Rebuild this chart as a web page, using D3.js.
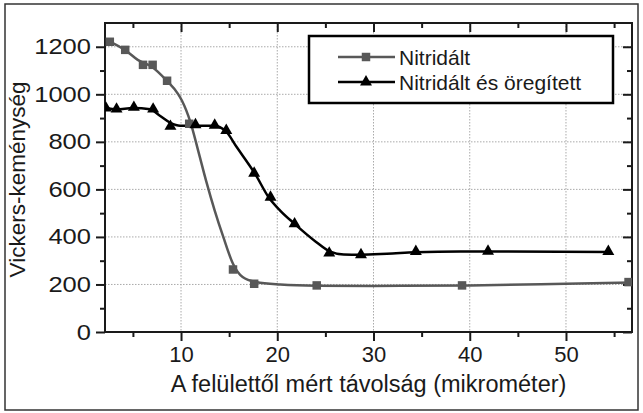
<!DOCTYPE html>
<html>
<head>
<meta charset="utf-8">
<script src="https://cdn.jsdelivr.net/npm/d3@7"></script>
<style>
    html, body { margin: 0; padding: 0; background: #fff; }
    svg { display: block; font-family: 'Liberation Sans', Arial, sans-serif; }
</style>
</head>
<body>
<div id="chart"></div>
<script>
'use strict';

// measured points
const nitridX = [2.6, 4.2, 6.05, 7.05, 8.55, 10.85, 15.4, 17.6, 24.1, 39.2, 56.5];
const nitridY = [1221, 1187, 1124, 1124, 1057, 876, 263, 203, 196, 196, 210];
const agedX = [2.2, 3.3, 5.1, 7.1, 8.9, 11.5, 13.5, 14.7, 17.6, 19.3, 21.8, 25.4, 28.7, 34.4, 41.9, 54.4];
const agedY = [942, 938, 945, 938, 865, 872, 870, 848, 668, 567, 455, 332, 325, 339, 340, 339];

// fitted curves
const nitridCurveX = [2.6, 4.2, 5.5, 7.0, 8.5, 9.7, 10.1, 11.0, 11.8, 12.6, 13.5, 14.4, 15.4, 16.4, 17.8, 20.3, 24.1, 30, 40, 50, 56.9];
const nitridCurveY = [1222, 1186, 1145, 1115, 1058, 1001, 973, 880, 760, 637, 511, 399, 287, 231, 210, 200, 195, 194, 196, 203, 208];
const agedCurveX = [2.2, 3.3, 5.0, 6.8, 7.8, 8.9, 9.9, 11.6, 13.4, 14.6, 15.8, 17.7, 19.1, 20.3, 21.8, 24.0, 25.5, 26.9, 28.6, 31.4, 34.3, 39.0, 54.6];
const agedCurveY = [942, 937, 942, 937, 910, 880, 868, 868, 868, 847, 777, 665, 567, 511, 455, 380, 338, 326, 325, 329, 335, 339, 337];

const xTicks = [10, 20, 30, 40, 50];
const xMinor = [5, 15, 25, 35, 45, 55];
const yTicks = [0, 200, 400, 600, 800, 1000, 1200];
const yMinor = [100, 300, 500, 700, 900, 1100];

const seriesNames = ['Nitridált', 'Nitridált és öregített'];
const xTitle = 'A felülettől mért távolság (mikrométer)';
const yTitle = 'Vickers-keménység';

const W = 643, H = 413;
const margin = {top: 23, right: 11, bottom: 81, left: 105};
const width = W - margin.left - margin.right;
const height = H - margin.top - margin.bottom;
const grayCol = '#585858';
const inkCol = '#1a1a1a';

const svg = d3.select('#chart').append('svg')
    .attr('width', W)
    .attr('height', H);

// outer frame
svg.append('rect')
    .attr('x', 5).attr('y', 4)
    .attr('width', 633).attr('height', 406)
    .attr('fill', 'none')
    .attr('stroke', '#333')
    .attr('stroke-width', 1.5);

const g = svg.append('g')
    .attr('transform', `translate(${margin.left}, ${margin.top})`);

const x = d3.scaleLinear().domain([2.1, 56.86]).range([0, width]);
const y = d3.scaleLinear().domain([0, 1300]).range([height, 0]);

// grid
g.append('g').selectAll('line')
    .data(xTicks).enter().append('line')
    .attr('x1', d => x(d)).attr('x2', d => x(d))
    .attr('y1', 0).attr('y2', height)
    .attr('stroke', '#aaa').attr('stroke-width', 1)
    .attr('stroke-dasharray', '1.5,1.5');
g.append('g').selectAll('line')
    .data(yTicks.filter(d => d > 0)).enter().append('line')
    .attr('x1', 0).attr('x2', width)
    .attr('y1', d => y(d)).attr('y2', d => y(d))
    .attr('stroke', '#aaa').attr('stroke-width', 1)
    .attr('stroke-dasharray', '1.5,1.5');

const styleAxis = (sel) => {
    sel.select('.domain').remove();
    sel.selectAll('line').attr('stroke', inkCol).attr('stroke-width', 2);
    sel.selectAll('text')
        .attr('fill', inkCol)
        .style('font-size', '22px')
        .style('font-family', "'Liberation Sans', Arial, sans-serif");
};

// bottom axis: ticks outward
g.append('g')
    .attr('transform', `translate(0, ${height})`)
    .call(d3.axisBottom(x).tickValues(xTicks).tickSize(9).tickPadding(5).tickFormat(d3.format('d')))
    .call(styleAxis);
g.append('g')
    .attr('transform', `translate(0, ${height})`)
    .call(d3.axisBottom(x).tickValues(xMinor).tickSize(5).tickFormat(''))
    .call(styleAxis);

// left axis: ticks outward, labels a bit wider as in the original
const leftAxis = g.append('g')
    .call(d3.axisLeft(y).tickValues(yTicks).tickSize(9).tickPadding(5).tickFormat(d3.format('d')))
    .call(styleAxis);
leftAxis.selectAll('text').each(function() {
    const len = this.getComputedTextLength();
    d3.select(this)
        .attr('textLength', len * 1.16)
        .attr('lengthAdjust', 'spacingAndGlyphs');
});
g.append('g')
    .call(d3.axisLeft(y).tickValues(yMinor).tickSize(5).tickFormat(''))
    .call(styleAxis);

// top and right: ticks inward
g.append('g')
    .call(d3.axisTop(x).tickValues(xTicks).tickSize(-9).tickFormat(''))
    .call(styleAxis);
g.append('g')
    .call(d3.axisTop(x).tickValues(xMinor).tickSize(-5).tickFormat(''))
    .call(styleAxis);
g.append('g')
    .attr('transform', `translate(${width}, 0)`)
    .call(d3.axisRight(y).tickValues(yTicks).tickSize(-9).tickFormat(''))
    .call(styleAxis);
g.append('g')
    .attr('transform', `translate(${width}, 0)`)
    .call(d3.axisRight(y).tickValues(yMinor).tickSize(-5).tickFormat(''))
    .call(styleAxis);

// plot frame
g.append('rect')
    .attr('width', width).attr('height', height)
    .attr('fill', 'none')
    .attr('stroke', inkCol)
    .attr('stroke-width', 2);

g.append('clipPath').attr('id', 'clip')
    .append('rect').attr('width', width).attr('height', height);

const line = d3.line()
    .x(d => x(d[0]))
    .y(d => y(d[1]))
    .curve(d3.curveMonotoneX);

const zip = (xs, ys) => xs.map((v, i) => [v, ys[i]]);

const plot = g.append('g').attr('clip-path', 'url(#clip)');

plot.append('path')
    .datum(zip(nitridCurveX, nitridCurveY))
    .attr('d', line)
    .attr('fill', 'none')
    .attr('stroke', grayCol)
    .attr('stroke-width', 2.5);

plot.append('path')
    .datum(zip(agedCurveX, agedCurveY))
    .attr('d', line)
    .attr('fill', 'none')
    .attr('stroke', '#000')
    .attr('stroke-width', 2.5);

const square = d3.symbol().type(d3.symbolSquare).size(72);
const triangle = d3.symbol().type(d3.symbolTriangle).size(62);

plot.append('g').selectAll('path')
    .data(zip(nitridX, nitridY)).enter().append('path')
    .attr('d', square)
    .attr('transform', d => `translate(${x(d[0])}, ${y(d[1])})`)
    .attr('fill', grayCol);

plot.append('g').selectAll('path')
    .data(zip(agedX, agedY)).enter().append('path')
    .attr('d', triangle)
    .attr('transform', d => `translate(${x(d[0])}, ${y(d[1])})`)
    .attr('fill', '#000');

// legend
const legend = svg.append('g');
legend.append('rect')
    .attr('x', 309).attr('y', 36)
    .attr('width', 304).attr('height', 67)
    .attr('fill', '#fff')
    .attr('stroke', '#000')
    .attr('stroke-width', 2.5);

const legendRows = [
    {name: seriesNames[0], color: grayCol, sym: square, cy: 57},
    {name: seriesNames[1], color: '#000', sym: triangle, cy: 82},
];
legendRows.forEach(row => {
    legend.append('line')
        .attr('x1', 338).attr('x2', 395)
        .attr('y1', row.cy).attr('y2', row.cy)
        .attr('stroke', row.color).attr('stroke-width', 2.5);
    legend.append('path')
        .attr('d', row.sym)
        .attr('transform', `translate(366, ${row.cy})`)
        .attr('fill', row.color);
    legend.append('text')
        .attr('x', 399).attr('y', row.cy + 7.5)
        .attr('fill', inkCol)
        .style('font-size', '21px')
        .text(row.name);
});

// axis titles
svg.append('text')
    .attr('x', margin.left + width / 2)
    .attr('y', 392)
    .attr('text-anchor', 'middle')
    .attr('fill', inkCol)
    .style('font-size', '23.5px')
    .text(xTitle);

svg.append('text')
    .attr('transform', `translate(25, ${margin.top + height / 2 + 2}) rotate(-90)`)
    .attr('text-anchor', 'middle')
    .attr('fill', inkCol)
    .style('font-size', '22.5px')
    .text(yTitle);
</script>
</body>
</html>
